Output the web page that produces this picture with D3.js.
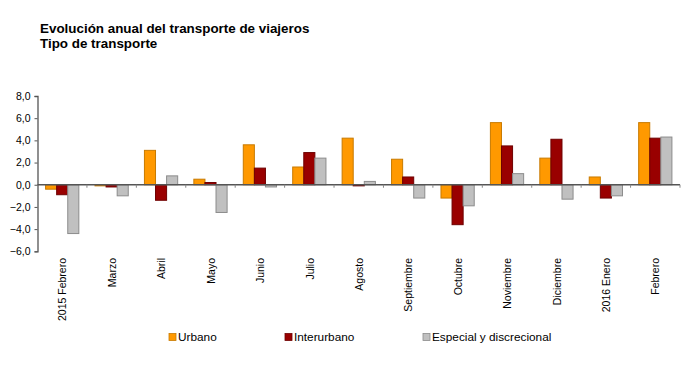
<!DOCTYPE html>
<html>
<head>
<meta charset="utf-8">
<script src="https://cdn.jsdelivr.net/npm/d3@7"></script>
<style>
  body { margin: 0; background: #fff; }
  svg { display: block; font-family: "Liberation Sans", Arial, sans-serif; }
</style>
</head>
<body>
<svg id="chart" width="700" height="380"></svg>
<script>
const categories = ["2015 Febrero","Marzo","Abril","Mayo","Junio","Julio","Agosto","Septiembre","Octubre","Noviembre","Diciembre","2016 Enero","Febrero"];
const seriesNames = ["Urbano","Interurbano","Especial y discrecional"];
const urbano      = [-0.4, -0.1, 3.1, 0.5, 3.6, 1.6, 4.2, 2.3, -1.2, 5.6, 2.4, 0.7, 5.6];
const interurbano = [-0.9, -0.2, -1.4, 0.2, 1.5, 2.9, -0.1, 0.7, -3.6, 3.5, 4.1, -1.2, 4.2];
const especial    = [-4.4, -1.0, 0.8, -2.5, -0.2, 2.4, 0.3, -1.2, -1.9, 1.0, -1.3, -1.0, 4.3];
const yTicks = [-6, -4, -2, 0, 2, 4, 6, 8];

const seriesValues = [urbano, interurbano, especial];
const fills   = ["#FF9900", "#990000", "#C0C0C0"];
const strokes = ["#C87A00", "#6E0000", "#8C8C8C"];

const svg = d3.select("#chart");
const plotLeft = 37.5, plotRight = 680, plotTop = 96, plotBottom = 251.3;

const y = d3.scaleLinear().domain([-6, 8]).range([plotBottom, plotTop]);
const x0 = d3.scaleBand().domain(categories).range([plotLeft, plotRight]).padding(0);
const x1 = d3.scaleBand().domain(seriesNames).range([0, x0.bandwidth()]).paddingInner(0).paddingOuter(0.73);

// Title
svg.append("text").attr("x", 40).attr("y", 33).attr("font-size", 13.4).attr("font-weight", "bold").attr("fill", "#000")
  .text("Evolución anual del transporte de viajeros");
svg.append("text").attr("x", 40).attr("y", 47.5).attr("font-size", 13.4).attr("font-weight", "bold").attr("fill", "#000")
  .text("Tipo de transporte");

// Bars
const data = [];
categories.forEach((c, i) => {
  seriesNames.forEach((s, j) => data.push({c, s, j, v: seriesValues[j][i]}));
});
svg.append("g").selectAll("rect").data(data).join("rect")
  .attr("x", d => x0(d.c) + x1(d.s))
  .attr("width", x1.bandwidth())
  .attr("y", d => y(Math.max(0, d.v)))
  .attr("height", d => Math.abs(y(d.v) - y(0)))
  .attr("fill", d => fills[d.j])
  .attr("stroke", d => strokes[d.j])
  .attr("stroke-width", 1);

// Y axis
const yAxis = d3.axisLeft(y).tickValues(yTicks).tickSize(3).tickPadding(4)
  .tickFormat(d => d3.format(".1f")(d).replace(".", ","));
const gy = svg.append("g").attr("transform", `translate(${plotLeft},0)`).call(yAxis);
gy.select(".domain").attr("stroke", "#555").attr("stroke-width", 1.3);
gy.selectAll(".tick line").attr("stroke", "#555");
gy.selectAll(".tick text").attr("font-size", 10.5).attr("fill", "#000").attr("font-family", "Liberation Sans, Arial, sans-serif");

// X axis at zero
const gx = svg.append("g").attr("transform", `translate(0,${y(0)})`);
gx.append("line").attr("x1", plotLeft).attr("x2", plotRight).attr("stroke", "#555").attr("stroke-width", 1.3);
const bounds = categories.map(c => x0(c)).concat([plotRight]).slice(1);
gx.selectAll("line.tk").data(bounds).join("line").attr("class", "tk")
  .attr("x1", d => d).attr("x2", d => d).attr("y1", 0).attr("y2", 3).attr("stroke", "#888");

// X labels
svg.append("g").selectAll("text").data(categories).join("text")
  .attr("transform", d => `translate(${x0(d) + x0.bandwidth() / 2 + 0.5},258) rotate(-90)`)
  .attr("text-anchor", "end")
  .attr("dy", "0.35em")
  .attr("font-size", 10.5)
  .attr("fill", "#000")
  .text(d => d);

// Legend
const legendX = [169, 285, 423];
const lg = svg.append("g");
seriesNames.forEach((s, j) => {
  lg.append("rect").attr("x", legendX[j]).attr("y", 333.5).attr("width", 7).attr("height", 7)
    .attr("fill", fills[j]).attr("stroke", strokes[j]).attr("stroke-width", 0.8);
  lg.append("text").attr("x", legendX[j] + 9).attr("y", 341).attr("font-size", 11.8).attr("fill", "#000").text(s);
});
</script>
</body>
</html>
